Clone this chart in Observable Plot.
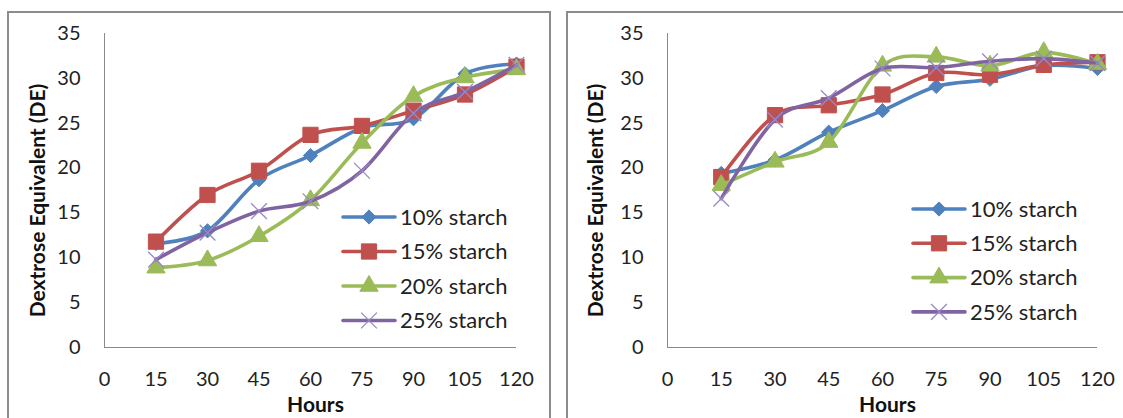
<!DOCTYPE html>
<html><head><meta charset="utf-8">
<script src="https://cdn.jsdelivr.net/npm/d3@7"></script>
<script src="https://cdn.jsdelivr.net/npm/@observablehq/plot@0.6"></script>
<style>
html,body{margin:0;padding:0;background:#fff;overflow:hidden;}
#root{position:relative;width:1123px;height:418px;overflow:hidden;background:#fff;}
.panel{position:absolute;top:11px;border:2px solid #8c8c8c;box-sizing:border-box;height:470px;}
</style></head><body><div id="root"></div>
<script>
// ---- data ----
const hours = [15, 30, 45, 60, 75, 90, 105, 120];
const xTicks = [0, 15, 30, 45, 60, 75, 90, 105, 120];
const yTicks = [0, 5, 10, 15, 20, 25, 30, 35];
const seriesNames = ["10% starch", "15% starch", "20% starch", "25% starch"];
const seriesColors = ["#4F81BD", "#C0504D", "#9BBB59", "#8064A2"];
const seriesSymbols = ["diamond2", "square", "triangle", "times"];
const xTitle = "Hours";
const yTitle = "Dextrose Equivalent (DE)";

const leftStarch10 = [11.6, 13.0, 18.7, 21.4, 24.5, 25.5, 30.5, 31.6];
const leftStarch15 = [11.8, 17.0, 19.7, 23.7, 24.7, 26.4, 28.2, 31.3];
const leftStarch20 = [8.9, 9.7, 12.4, 16.4, 22.8, 28.0, 30.1, 31.0];
const leftStarch25 = [9.8, 12.8, 15.2, 16.3, 19.7, 26.1, 28.5, 31.5];

const rightStarch10 = [19.4, 20.9, 24.0, 26.4, 29.1, 29.9, 31.4, 31.1];
const rightStarch15 = [19.0, 25.9, 27.0, 28.2, 30.6, 30.4, 31.5, 31.8];
const rightStarch20 = [18.1, 20.7, 22.9, 31.4, 32.4, 31.4, 32.9, 31.6];
const rightStarch25 = [16.6, 25.4, 27.8, 31.1, 31.2, 31.9, 32.2, 31.7];

// ---- styling ----
const FONT = "Lato, 'Open Sans', sans-serif";
const symR = [6.4, 8.6, 6.8, 7.2];
const symFill = (i) => seriesSymbols[i] === "times" ? "none" : seriesColors[i];
const symStroke = (i) => seriesSymbols[i] === "times" ? "#9a88c4" : seriesColors[i];
const symStrokeWidth = (i) => seriesSymbols[i] === "times" ? 1.3 : 1;

const root = document.getElementById("root");

function addPanelBorder(left, width) {
  const d = document.createElement("div");
  d.className = "panel";
  d.style.left = left + "px";
  d.style.width = width + "px";
  root.appendChild(d);
}

function makePanel(values, cfg) {
  const marks = [
    Plot.ruleY([0], {stroke: "#8a8a8a", strokeWidth: 1}),
    Plot.ruleX([0], {stroke: "#8a8a8a", strokeWidth: 1})
  ];
  seriesNames.forEach((name, i) => {
    const d = values[i].map((v, j) => ({hour: hours[j], de: v, series: name}));
    marks.push(Plot.line(d, {x: "hour", y: "de", stroke: seriesColors[i], strokeWidth: 3.6, curve: "cardinal"}));
    marks.push(Plot.dot(d, {x: "hour", y: "de", symbol: seriesSymbols[i], r: symR[i],
      fill: symFill(i), stroke: symStroke(i), strokeWidth: symStrokeWidth(i)}));
  });
  marks.push(Plot.text([yTitle], {text: d => d, frameAnchor: "left", textAnchor: "middle", lineAnchor: "middle",
    rotate: -90, dx: cfg.titleDx, dy: 10, fontWeight: "bold", fontSize: 21, fill: "#111"}));
  marks.push(Plot.text([xTitle], {text: d => d, frameAnchor: "bottom", textAnchor: "middle", lineAnchor: "middle",
    dx: 5, dy: 58, fontWeight: "bold", fontSize: 21, fill: "#111"}));

  const svg = Plot.plot({
    width: cfg.width,
    height: 418,
    marginLeft: cfg.marginLeft,
    marginRight: cfg.marginRight,
    marginTop: 33,
    marginBottom: 71,
    style: {fontFamily: FONT, fontSize: "20px", color: "#222", background: "transparent", overflow: "visible"},
    x: {domain: [0, 120], ticks: xTicks, tickSize: 0, tickPadding: 24, label: null, tickFormat: d => String(d)},
    y: {domain: [0, 35], ticks: yTicks, tickSize: 0, tickPadding: 24, label: null, tickFormat: d => String(d)},
    marks
  });
  svg.style.position = "absolute";
  svg.style.left = cfg.left + "px";
  svg.style.top = "0px";
  svg.style.maxWidth = "none";
  root.appendChild(svg);
}

function makeLegend(cfg) {
  const w = 200, h = 150;
  const svg = d3.create("svg")
    .attr("width", w).attr("height", h)
    .style("position", "absolute")
    .style("left", cfg.left + "px")
    .style("top", cfg.top + "px")
    .style("overflow", "visible")
    .style("font-family", FONT);
  const symbolTypes = {diamond2: d3.symbolDiamond2, square: d3.symbolSquare, triangle: d3.symbolTriangle, times: d3.symbolTimes};
  seriesNames.forEach((name, i) => {
    const y = i * cfg.step;
    const g = svg.append("g").attr("transform", `translate(0,${y})`);
    g.append("line").attr("x1", 0).attr("x2", 52).attr("y1", 0).attr("y2", 0)
      .attr("stroke", seriesColors[i]).attr("stroke-width", 3.6).attr("stroke-linecap", "round");
    g.append("path")
      .attr("transform", "translate(26,0)")
      .attr("d", d3.symbol(symbolTypes[seriesSymbols[i]], Math.PI * symR[i] * symR[i])())
      .attr("fill", symFill(i)).attr("stroke", symStroke(i)).attr("stroke-width", symStrokeWidth(i));
    g.append("text").attr("x", 57).attr("y", 0).attr("dy", "0.35em")
      .attr("font-size", 22).attr("fill", "#222").text(name);
  });
  root.appendChild(svg.node());
}

addPanelBorder(7, 544);
addPanelBorder(566, 600);

makePanel([leftStarch10, leftStarch15, leftStarch20, leftStarch25],
  {left: 0, width: 555, marginLeft: 104, marginRight: 39, titleDx: -66});
makePanel([rightStarch10, rightStarch15, rightStarch20, rightStarch25],
  {left: 560, width: 563, marginLeft: 107, marginRight: 26, titleDx: -71});

makeLegend({left: 343, top: 217, step: 34.5});
makeLegend({left: 913, top: 209, step: 34.3});
</script>
</body></html>
